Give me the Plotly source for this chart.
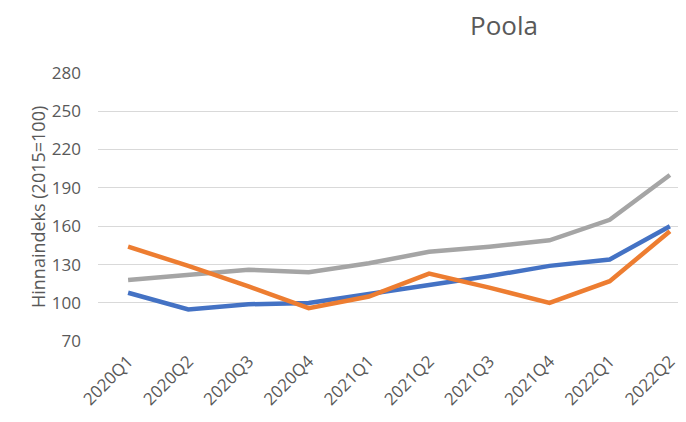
import plotly.graph_objects as go

quarters = ["2020Q1", "2020Q2", "2020Q3", "2020Q4", "2021Q1",
            "2021Q2", "2021Q3", "2021Q4", "2022Q1", "2022Q2"]
blue_vals = [108, 95, 99, 100, 107, 114, 121, 129, 134, 160]
orange_vals = [144, 129, 113, 96, 105, 123, 112, 100, 117, 156]
gray_vals = [118, 122, 126, 124, 131, 140, 144, 149, 165, 200]

y_ticks = [70, 100, 130, 160, 190, 220, 250, 280]

GREY_TEXT = "#595959"
FONT = "Open Sans"

# the page body has an 8px margin, so size the figure to fit inside the window
FIG_W, FIG_H = 678, 414
PLOT_L, PLOT_T, PLOT_H = 90, 64, 270
PLOT_W = FIG_W - PLOT_L
CAT_PX = 60.2

fig = go.Figure()
for vals, color in [(gray_vals, "#A5A5A5"), (blue_vals, "#4472C4"), (orange_vals, "#ED7D31")]:
    fig.add_trace(
        go.Scatter(
            x=quarters,
            y=vals,
            mode="lines",
            line={"color": color, "width": 4.5},
            showlegend=False,
            hoverinfo="skip",
        )
    )

# chart title, placed as an annotation above the plot box
fig.add_annotation(
    text="Poola",
    xref="paper",
    yref="paper",
    x=(496 - PLOT_L) / PLOT_W,
    y=1 + (PLOT_T - 17) / PLOT_H,
    xanchor="center",
    yanchor="middle",
    showarrow=False,
    font={"size": 26, "color": GREY_TEXT, "family": FONT},
)

fig.add_annotation(
    text="Hinnaindeks (2015=100)",
    textangle=-90,
    xref="paper",
    yref="paper",
    x=(30 - PLOT_L) / PLOT_W,
    y=0.5,
    xanchor="center",
    yanchor="middle",
    showarrow=False,
    font={"size": 18, "color": GREY_TEXT, "family": FONT},
)

fig.update_layout(
    width=FIG_W,
    height=FIG_H,
    paper_bgcolor="white",
    plot_bgcolor="white",
    margin={"l": PLOT_L, "r": 0, "t": PLOT_T, "b": FIG_H - PLOT_T - PLOT_H},
    font={"family": FONT, "color": GREY_TEXT, "size": 17},
    xaxis={
        "range": [-0.5, -0.5 + PLOT_W / CAT_PX],
        "tickangle": -45,
        "showgrid": False,
        "zeroline": False,
        "showline": False,
        "ticks": "",
        "ticklabelstandoff": 5,
        "tickfont": {"size": 17, "color": GREY_TEXT},
    },
    yaxis={
        "range": [69.5, 280.5],
        "tickvals": y_ticks,
        "showgrid": True,
        "gridcolor": "#D9D9D9",
        "gridwidth": 1,
        "zeroline": False,
        "showline": False,
        "ticks": "",
        "ticklabelstandoff": 16,
        "tickfont": {"size": 17, "color": GREY_TEXT},
    },
)

fig.write_html("out.html")
